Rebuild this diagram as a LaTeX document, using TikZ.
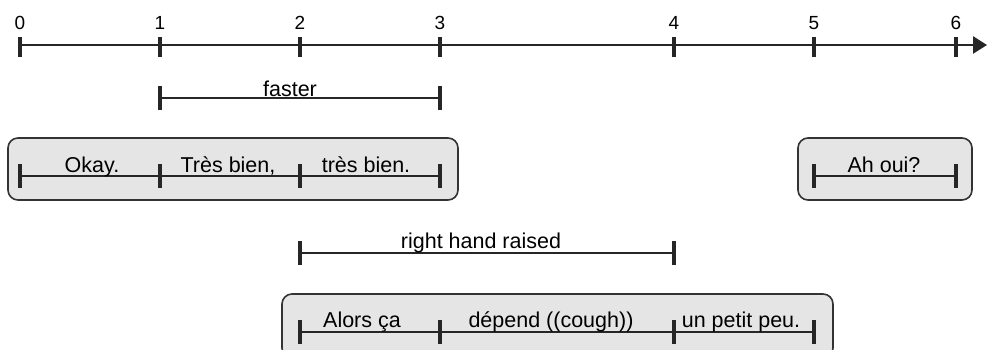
\documentclass[tikz,border=0pt]{standalone}
\usepackage{fontspec}
\setmainfont{Liberation Sans}
\usetikzlibrary{arrows.meta}

\begin{document}
\begin{tikzpicture}[
  x=1pt, y=-1pt,
  axis/.style={-{Triangle[length=14pt,width=17pt]}, line width=2.6pt, draw=black!85},
  tickmark/.style={line width=3.4pt, draw=black!85},
  span/.style={line width=1.9pt, draw=black!85},
  row/.style={draw=black!80, fill=gray!20, line width=1.6pt, rounded corners=10pt, inner sep=0pt},
  num/.style={anchor=base, inner sep=0pt, font=\fontsize{19}{21}\selectfont},
  lbl/.style={anchor=base, inner sep=0pt, font=\fontsize{21.5}{24}\selectfont}
]
\useasboundingbox (0,0) rectangle (987,350);
\clip (0,0) rectangle (987,350);

% time axis with numbered ticks
\foreach \i/\x in {0/20,1/160,2/300,3/440,4/674,5/814,6/956} {
  \coordinate (t\i) at (\x,45);
  \node[num] (n\i) at (\x,30) {\i};
}
\coordinate (tend) at (987,45);
\draw[axis] (t0) -- (tend);
\foreach \i in {0,...,6}
  \draw[tickmark] ([yshift=8pt]t\i) -- ([yshift=-12pt]t\i);

% grey rows behind the utterances
\node[row, minimum width=450pt, minimum height=62pt] (row1) at (233,169) {};
\node[row, minimum width=174pt, minimum height=62pt] (row2) at (885,169) {};
\node[row, minimum width=551pt, minimum height=64pt] (row3) at (557.5,326) {};

% span end points
\coordinate (f1) at (160,98);  \coordinate (f3) at (440,98);
\coordinate (a0) at (20,176);  \coordinate (a1) at (160,176);
\coordinate (a2) at (300,176); \coordinate (a3) at (440,176);
\coordinate (b5) at (814,176); \coordinate (b6) at (956,176);
\coordinate (r2) at (300,253); \coordinate (r4) at (674,253);
\coordinate (c2) at (300,332); \coordinate (c3) at (440,332);
\coordinate (c4) at (674,332); \coordinate (c5) at (814,332);

\draw[span] (f1) -- (f3);
\draw[span] (a0) -- (a1) -- (a2) -- (a3);
\draw[span] (b5) -- (b6);
\draw[span] (r2) -- (r4);
\draw[span] (c2) -- (c3) -- (c4) -- (c5);
\foreach \c in {f1,f3,a0,a1,a2,a3,b5,b6,r2,r4,c2,c3,c4,c5}
  \draw[tickmark] ([yshift=12pt]\c) -- ([yshift=-12pt]\c);

% labels
\node[lbl] (faster) at (290,97) {faster};
\node[lbl] (okay) at (92,172) {Okay.};
\node[lbl] (tres1) at (228,172) {Très bien,};
\node[lbl] (tres2) at (366,172) {très bien.};
\node[lbl] (ahoui) at (884,172) {Ah oui?};
\node[lbl] (raised) at (481,248) {right hand raised};
\node[lbl] (alors) at (362,327) {Alors ça};
\node[lbl] (depend) at (551,327) {dépend ((cough))};
\node[lbl] (peu) at (741,327) {un petit peu.};
\end{tikzpicture}
\end{document}
